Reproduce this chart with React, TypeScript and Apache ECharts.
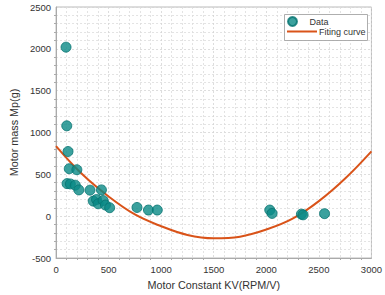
import React, { useEffect, useRef } from "react";
import * as echarts from "echarts";

const dataKV = [95, 102, 114, 126, 198, 105, 136, 183, 217, 323, 432, 354, 385, 401, 448, 470, 510, 770, 879, 963, 2033, 2055, 2334, 2350, 2554];
const dataMass = [2020, 1080, 773, 567, 555, 389, 385, 370, 314, 311, 314, 180, 199, 148, 187, 133, 101, 104, 73, 73, 73, 33, 24, 16, 30];

const fitKV = [0, 250, 500, 750, 1000, 1250, 1500, 1750, 2000, 2250, 2500, 2750, 3000];
const fitMass = [838, 500, 235, 20, -120, -225, -265, -245, -160, -30, 180, 450, 775];

const xTicks = [0, 3000, 500];
const yTicks = [-500, 2500, 500];

export default function App() {
  const ref = useRef<HTMLDivElement>(null);
  useEffect(() => {
    const chart = echarts.init(ref.current!, null, { renderer: "svg" });
    const font = "Liberation Sans, Arial, Helvetica, sans-serif";
    const axisCommon = {
      axisLine: { show: true, onZero: false, lineStyle: { color: "#aaa", width: 1 } },
      axisTick: { show: false },
      minorTick: { show: true, splitNumber: 5, length: 2, lineStyle: { color: "#aaa" } },
      splitLine: { show: true, lineStyle: { color: "#d4d4d4", type: [2, 2], width: 0.8 } },
      minorSplitLine: { show: true, lineStyle: { color: "#dcdcdc", type: [2, 2], width: 0.8 } },
      axisLabel: { color: "#333", fontSize: 9.5, fontFamily: font, formatter: (v: number) => String(v) },
      nameTextStyle: { color: "#333", fontSize: 10.8, fontFamily: font },
    };
    const legendText = { color: "#333", fontSize: 9, fontFamily: font, padding: [0, 0, 0, -3] };
    chart.setOption({
      animation: false,
      backgroundColor: "#fff",
      grid: {
        left: 55.5,
        right: 9,
        top: 7,
        bottom: 35,
        show: true,
        borderColor: "#bbb",
        borderWidth: 1,
        backgroundColor: "transparent",
      },
      graphic: [
        {
          type: "rect",
          shape: { x: 284.5, y: 14.5, width: 83, height: 26 },
          style: { fill: "#fff", stroke: "#999", lineWidth: 0.8 },
          z: 50,
        },
      ],
      legend: [
        {
          left: 287,
          top: 16,
          padding: 0,
          itemWidth: 30,
          itemHeight: 9,
          z: 60,
          textStyle: legendText,
          data: [{ name: "Data", icon: "circle" }],
        },
        {
          left: 287,
          top: 27,
          padding: 0,
          itemWidth: 30,
          itemHeight: 2,
          z: 60,
          textStyle: legendText,
          data: [{ name: "Fiting curve", icon: "rect" }],
        },
      ],
      xAxis: {
        type: "value",
        min: xTicks[0],
        max: xTicks[1],
        interval: xTicks[2],
        name: "Motor Constant KV(RPM/V)",
        nameLocation: "middle",
        nameGap: 21,
        ...axisCommon,
        axisLabel: { ...axisCommon.axisLabel, margin: 6 },
      },
      yAxis: {
        type: "value",
        min: yTicks[0],
        max: yTicks[1],
        interval: yTicks[2],
        name: "Motor mass Mp(g)",
        nameLocation: "middle",
        nameGap: 32,
        ...axisCommon,
        axisLabel: { ...axisCommon.axisLabel, margin: 5 },
      },
      series: [
        {
          name: "Fiting curve",
          type: "line",
          data: fitKV.map((x, i) => [x, fitMass[i]]),
          smooth: 0.4,
          symbol: "none",
          lineStyle: { color: "#D95319", width: 2 },
          itemStyle: { color: "#D95319" },
          z: 2,
        },
        {
          name: "Data",
          type: "scatter",
          data: dataKV.map((x, i) => [x, dataMass[i]]),
          symbol: "circle",
          symbolSize: 10,
          itemStyle: { color: "#0a8a86", borderColor: "#067370", borderWidth: 1 },
          z: 3,
        },
      ],
    });
    return () => chart.dispose();
  }, []);
  return (
    <div
      ref={ref}
      style={{ position: "absolute", left: 0, top: 0, width: 385, height: 295 }}
    />
  );
}
